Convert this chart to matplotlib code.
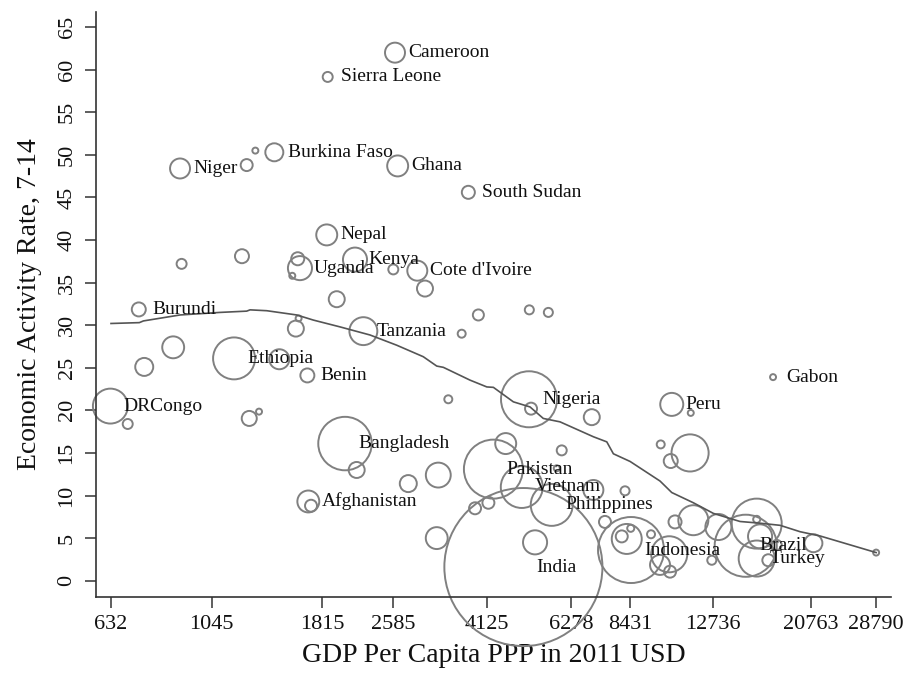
import numpy as np
import matplotlib.pyplot as plt

plt.rcParams['font.family'] = ['Liberation Serif', 'DejaVu Serif']

# one entry per country: GDP per capita (PPP 2011 USD), activity rate 7-14 (%), population (millions)
names = ['Niger', '', '', 'Burkina Faso', 'Cameroon', 'Sierra Leone', 'Ghana', 'South Sudan',
         'Nepal', '', '', '', 'Uganda', '', 'Kenya', '', "Cote d'Ivoire", '', '', 'Burundi',
         '', '', '', '', '', 'Tanzania', '', '', '', 'Ethiopia', '', 'Benin', 'DRCongo', '',
         '', '', '', 'Nigeria', '', '', 'Peru', '', 'Gabon', 'Bangladesh', '', '', '',
         'Afghanistan', '', '', '', '', 'Pakistan', '', 'Vietnam', 'Philippines', '', '', '',
         'India', '', '', '', 'Indonesia', '', '', '', '', '', '', '', '', '', '', '', '', '',
         '', '', '', 'Brazil', '', 'Turkey', '', '', '', '']
gdp = [892, 1244, 1299, 1428, 2608, 1864, 2643, 3761,
       1855, 899, 1215, 1605, 1623, 1562, 2136, 2586, 2915, 3029, 1950, 726,
       3954, 5099, 5607, 1590, 1612, 2227, 3638, 862, 746, 1168, 1464, 1684, 630, 687,
       1260, 1323, 3403, 5091, 5143, 6964, 10380, 11413, 17210, 2032, 2154, 2787, 3237,
       1692, 1715, 3212, 3889, 4157, 4262, 4532, 4910, 5702, 5994, 5847, 5247,
       4950, 7020, 7438, 8221, 8471, 8088, 8292, 8459, 9360, 10551, 10250, 9790, 10292,
       12677, 11561, 13102, 9824, 10328, 11374, 15862, 15862, 15017, 16130, 15862, 16810,
       17530, 21050, 28790]
rate = [48.4, 48.8, 50.5, 50.3, 62.0, 59.15, 48.7, 45.6,
        40.6, 37.2, 38.1, 37.8, 36.7, 35.8, 37.7, 36.55, 36.4, 34.3, 33.05, 31.85,
        31.2, 31.8, 31.5, 29.6, 30.8, 29.3, 29.0, 27.4, 25.1, 26.1, 26.0, 24.1, 20.5, 18.4,
        19.05, 19.85, 21.3, 21.3, 20.2, 19.2, 20.7, 19.7, 23.9, 16.1, 13.0, 11.4, 12.4,
        9.3, 8.8, 5.0, 8.5, 9.15, 13.1, 16.1, 11.0, 8.9, 15.3, 13.2, 4.5,
        1.6, 10.65, 6.9, 10.55, 3.6, 5.2, 4.9, 6.15, 5.45, 6.9, 3.1, 1.85, 1.06,
        2.4, 7.1, 6.3, 16.0, 14.05, 15.0, 6.7, 7.2, 4.1, 5.2, 2.6, 2.4,
        4.2, 4.4, 3.3]
pop = [20, 7.2, 1.8, 16.2, 20, 5, 22, 8.5,
       22, 5, 9.8, 8.5, 29, 1.8, 29, 5, 20, 12.8, 12.8, 9.8,
       6.1, 4.1, 4.1, 12.8, 1.8, 39, 3.2, 24, 16.2, 88, 20, 9.8, 61, 5,
       11.3, 1.8, 3.2, 157, 7.2, 12.8, 26.5, 1.8, 1.8, 143, 12.8, 14.5, 31,
       24, 7.2, 24, 7.2, 7.2, 174, 22, 88, 88, 5, 1.8, 29,
       1250, 20, 7.2, 4.1, 218, 7.2, 45, 2.5, 3.2, 8.5, 65, 20, 7.2,
       4.1, 45, 34, 3.2, 9.8, 69, 125, 2.5, 193, 29, 65, 7.2,
       5, 16.2, 1.8]

# smoothed fit line
line_x = [632, 728, 743, 892, 1089, 1244, 1265, 1375, 1597, 1735, 1982, 2302, 2630, 3003,
          3212, 3320, 3792, 4124, 4262, 4708, 5117, 5467, 5943, 7020, 7506, 7757, 8431,
          9790, 10380, 11561, 12779, 14597, 16130, 17824, 19697, 21763, 28790]
line_y = [30.2, 30.3, 30.5, 31.2, 31.5, 31.65, 31.8, 31.7, 31.2, 30.6, 29.8, 28.85, 27.65, 26.3,
          25.2, 25.05, 23.55, 22.75, 22.7, 21.0, 20.4, 19.05, 18.65, 16.9, 16.3, 14.9, 14.0,
          11.7, 10.35, 9.15, 7.9, 6.95, 6.75, 6.5, 5.75, 5.25, 3.3]

xticks = [632, 1045, 1815, 2585, 4125, 6278, 8431, 12736, 20763, 28790]
yticks = list(range(0, 70, 5))

fig = plt.figure(figsize=(9.06, 6.73), dpi=100)
ax = fig.add_axes([0.106, 0.1125, 0.8775, 0.870])

# big bubbles spill past the axis in the original, so no clipping
ax.scatter(gdp, rate, s=np.array(pop) * 10.36, facecolors='none',
           edgecolors='#808080', linewidths=1.4, zorder=2, clip_on=False)
ax.plot(line_x, line_y, color='#555555', lw=1.2, zorder=3)

for n, x, y in zip(names, gdp, rate):
    if n:
        ax.annotate(n, (x, y), xytext=(9.5, 0), textcoords='offset points',
                    va='center', ha='left', fontsize=14, color='#111111', zorder=4)

ax.set_xscale('log')
ax.set_xlim(586.5, 31015)
ax.set_ylim(-1.95, 66.8)
ax.set_xticks(xticks)
ax.set_xticklabels([str(t) for t in xticks])
ax.minorticks_off()
ax.set_yticks(yticks)
ax.set_yticklabels([str(t) for t in yticks], rotation=90, va='center')

for side in ['top', 'right']:
    ax.spines[side].set_visible(False)
for side in ['left', 'bottom']:
    ax.spines[side].set_color('#333333')
    ax.spines[side].set_linewidth(1.2)

ax.tick_params(axis='both', direction='out', length=8, width=1.1, color='#333333',
               labelsize=16, labelcolor='#111111')
ax.tick_params(axis='x', pad=5)
ax.tick_params(axis='y', pad=6)

ax.set_xlabel('GDP Per Capita PPP in 2011 USD', fontsize=20, color='#111111', labelpad=6)
ax.set_ylabel('Economic Activity Rate, 7-14', fontsize=20, color='#111111', labelpad=11)

fig.savefig('out.png', dpi=100)
